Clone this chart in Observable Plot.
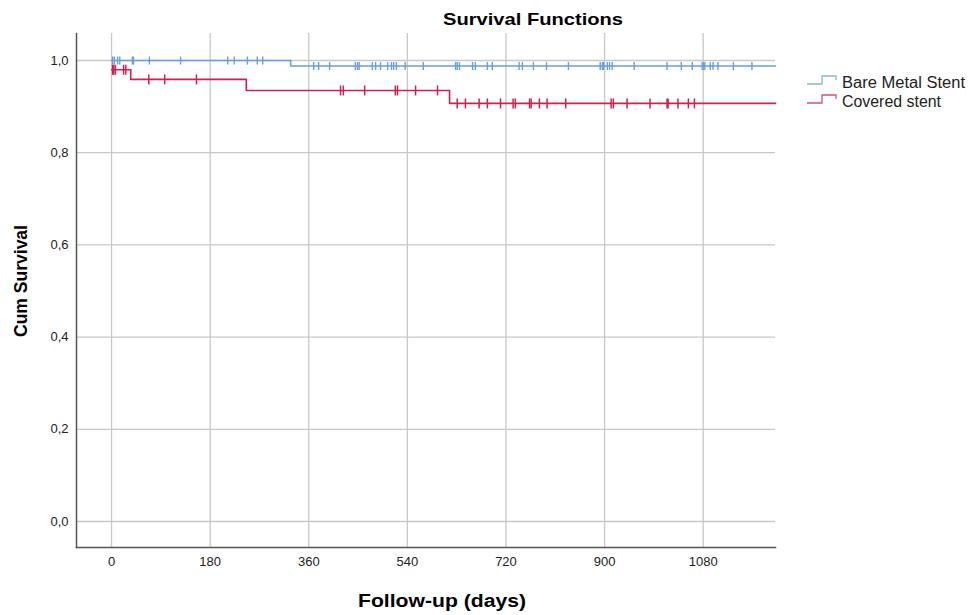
<!DOCTYPE html>
<html><head><meta charset="utf-8">
<script src="https://cdn.jsdelivr.net/npm/d3@7"></script>
<script src="https://cdn.jsdelivr.net/npm/@observablehq/plot@0.6"></script>
<style>
body{margin:0;background:#fff;font-family:"Liberation Sans",Arial,sans-serif}
#wrap{position:relative;width:968px;height:615px}
#wrap svg{position:absolute;left:0;top:0}
</style>
</head><body><div id="wrap"></div>
<script>
const seriesNames = ["Bare Metal Stent", "Covered stent"];
const seriesColors = ["#6a9fd9", "#cf2150"];
// Kaplan-Meier step points (days, cumulative survival)
const bmsStepDays = [0, 327, 1212];
const bmsStepSurv = [1.0, 0.988, 0.988];
const csStepDays = [0, 35, 246, 617, 1212];
const csStepSurv = [0.98, 0.959, 0.935, 0.907, 0.907];
// censored observations (days)
const bmsCensored = [2, 5, 11, 15, 38, 40, 69, 126, 212, 224, 248, 266, 276,
  369, 378, 398, 445, 449, 452, 476, 482, 491, 504, 511, 515, 520, 536, 569,
  628, 631, 635, 659, 664, 686, 695, 744, 750, 770, 794, 834, 892, 896, 898,
  905, 909, 914, 954, 1014, 1040, 1060, 1078, 1080, 1083, 1093, 1098, 1107, 1135, 1169];
const csCensored = [2, 4, 7, 22, 26, 68, 97, 155,
  418, 423, 462, 518, 522, 555, 595,
  631, 646, 671, 686, 710, 733, 737, 763, 766, 781, 795, 829,
  912, 916, 941, 983, 1014, 1016, 1034, 1053, 1064];
const xTicks = [0, 180, 360, 540, 720, 900, 1080];
const yTicks = [0, 0.2, 0.4, 0.6, 0.8, 1.0];
const xDomain = [-64, 1212];
const yDomain = [-0.0564, 1.0586];

function survAt(days, surv, t) {
  let v = surv[0];
  for (let i = 0; i < days.length; i++) if (days[i] <= t) v = surv[i];
  return v;
}
const bmsLine = bmsStepDays.map((d, i) => ({day: d, surv: bmsStepSurv[i]}));
const csLine = csStepDays.map((d, i) => ({day: d, surv: csStepSurv[i]}));
const bmsCens = bmsCensored.map(d => ({day: d, surv: survAt(bmsStepDays, bmsStepSurv, d)}));
const csCens = csCensored.map(d => ({day: d, surv: survAt(csStepDays, csStepSurv, d)}));

const vbar = {draw(ctx, size) { const h = Math.sqrt(size / Math.PI); ctx.moveTo(0, -h); ctx.lineTo(0, h); }};

const gridStyle = {stroke: "#c8c8c8", strokeOpacity: 1, strokeWidth: 1.3};
const plot = Plot.plot({
  width: 968, height: 615,
  marginLeft: 76, marginRight: 193, marginTop: 33, marginBottom: 68,
  style: {fontFamily: "Liberation Sans, Arial, sans-serif", fontSize: "13px", color: "#222", background: "transparent"},
  x: {domain: xDomain},
  y: {domain: yDomain},
  marks: [
    Plot.gridX(xTicks, gridStyle),
    Plot.gridY(yTicks, gridStyle),
    Plot.axisX(xTicks, {tickSize: 0, tickPadding: 9, label: null, tickFormat: d => String(d)}),
    Plot.axisY(yTicks, {tickSize: 0, tickPadding: 8, label: null, tickFormat: d => d.toFixed(1).replace(".", ",")}),
    Plot.frame({anchor: "left", stroke: "#555", strokeWidth: 1.5}),
    Plot.frame({anchor: "bottom", stroke: "#555", strokeWidth: 1.5}),
    Plot.line(bmsLine, {x: "day", y: "surv", curve: "step-after", stroke: seriesColors[0], strokeWidth: 1.6}),
    Plot.line(csLine, {x: "day", y: "surv", curve: "step-after", stroke: seriesColors[1], strokeWidth: 1.6}),
    Plot.dot(bmsCens, {x: "day", y: "surv", symbol: vbar, r: 4, stroke: seriesColors[0], fill: "none", strokeWidth: 1.4}),
    Plot.dot(csCens, {x: "day", y: "surv", symbol: vbar, r: 5, stroke: seriesColors[1], fill: "none", strokeWidth: 1.5})
  ]
});
const wrap = document.getElementById("wrap");
wrap.appendChild(plot);

// overlay: title, axis labels, legend
const ov = d3.select(wrap).append("svg").attr("width", 968).attr("height", 615)
  .style("font-family", "Liberation Sans, Arial, sans-serif");
ov.append("text").attr("x", 533).attr("y", 25).attr("text-anchor", "middle")
  .attr("font-weight", "bold").attr("font-size", 17).attr("textLength", 180).attr("lengthAdjust", "spacingAndGlyphs")
  .text("Survival Functions");
ov.append("text").attr("x", 442).attr("y", 607).attr("text-anchor", "middle")
  .attr("font-weight", "bold").attr("font-size", 18).attr("textLength", 168).attr("lengthAdjust", "spacingAndGlyphs")
  .text("Follow-up (days)");
ov.append("text").attr("transform", "translate(27,281) rotate(-90)").attr("text-anchor", "middle")
  .attr("font-weight", "bold").attr("font-size", 17.5).attr("textLength", 112).attr("lengthAdjust", "spacingAndGlyphs")
  .text("Cum Survival");
const legendY = [84, 103];
seriesNames.forEach((name, i) => {
  const y = legendY[i];
  ov.append("path").attr("d", `M807,${y}H822V${y - 8}H836V${y - 4}`)
    .attr("fill", "none").attr("stroke", seriesColors[i]).attr("stroke-width", 1.3).attr("opacity", 0.8);
  ov.append("text").attr("x", 842).attr("y", y + 3.5).attr("font-size", 16).attr("fill", "#222")
    .attr("textLength", i === 0 ? 123 : 99).attr("lengthAdjust", "spacingAndGlyphs")
    .text(name);
});
</script>
</body></html>
